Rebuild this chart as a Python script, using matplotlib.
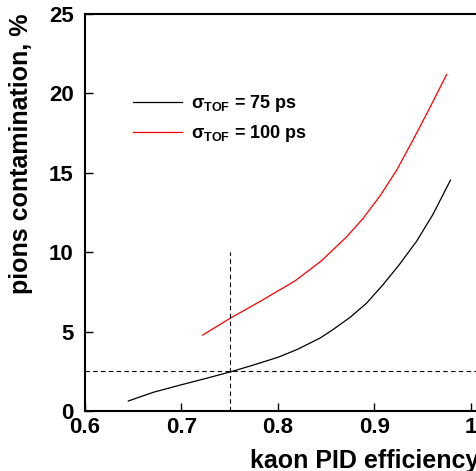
import numpy as np
import matplotlib
matplotlib.use('Agg')
import matplotlib.pyplot as plt

plt.rcParams['font.family'] = ['Liberation Sans', 'DejaVu Sans']
plt.rcParams['font.weight'] = 'bold'
plt.rcParams['mathtext.fontset'] = 'custom'
plt.rcParams['mathtext.rm'] = 'Liberation Sans:bold'
plt.rcParams['mathtext.bf'] = 'Liberation Sans:bold'
plt.rcParams['mathtext.it'] = 'Liberation Sans'

# sigma_TOF = 75 ps
eff_75 = [0.645, 0.671, 0.698, 0.726, 0.750, 0.774, 0.801, 0.821, 0.844,
          0.857, 0.875, 0.892, 0.909, 0.926, 0.944, 0.961, 0.979]
cont_75 = [0.63, 1.18, 1.62, 2.06, 2.45, 2.88, 3.40, 3.90, 4.60,
           5.12, 5.90, 6.79, 7.95, 9.22, 10.70, 12.40, 14.54]

# sigma_TOF = 100 ps
eff_100 = [0.722, 0.750, 0.783, 0.818, 0.845, 0.871, 0.888, 0.906,
           0.923, 0.940, 0.958, 0.975]
cont_100 = [4.78, 5.82, 6.95, 8.20, 9.45, 10.95, 12.10, 13.55,
            15.15, 17.05, 19.15, 21.19]

cut_eff = 0.75
cut_cont = 2.5
cut_top = 10

labels = [r'$\sigma_{\mathbf{TOF}}$ = 75 ps', r'$\sigma_{\mathbf{TOF}}$ = 100 ps']

fig = plt.figure(figsize=(4.77, 4.71), dpi=100)
ax = fig.add_axes([0.178, 0.1274, 0.91, 0.8429])

ax.plot(eff_75, cont_75, color='black', lw=0.9, label=labels[0])
ax.plot(eff_100, cont_100, color='red', lw=0.9, label=labels[1])

ax.axhline(cut_cont, color='black', lw=0.8, ls=(0, (4, 3)))
ax.plot([cut_eff, cut_eff], [0, cut_top], color='black', lw=0.8, ls=(0, (4, 3)))

ax.set_xlim(0.6, 1.05)
ax.set_ylim(0, 25)
ax.set_xticks([0.6, 0.7, 0.8, 0.9, 1.0])
ax.set_xticklabels(['0.6', '0.7', '0.8', '0.9', '1'])
ax.set_yticks([0, 5, 10, 15, 20, 25])
ax.tick_params(axis='x', direction='in', length=6, width=1, labelsize=16, pad=4)
ax.tick_params(axis='y', direction='in', length=5.5, width=1, labelsize=16, pad=8)
for s in ax.spines.values():
    s.set_linewidth(1.5)

ax.set_xlabel('kaon PID efficiency', fontsize=18, fontweight='bold', ha='left')
ax.xaxis.set_label_coords((250 - 85) / 434, -0.095)
ax.set_ylabel('pions contamination, %', fontsize=18, fontweight='bold', loc='top')
ax.yaxis.set_label_coords(-0.12, 1.0)

leg = ax.legend(loc='upper left', bbox_to_anchor=(0.111, 0.80), frameon=False,
                fontsize=13, handlelength=2.7, handletextpad=0.5,
                labelspacing=0.5, borderpad=0, borderaxespad=0)

fig.savefig('out.png', dpi=100)
